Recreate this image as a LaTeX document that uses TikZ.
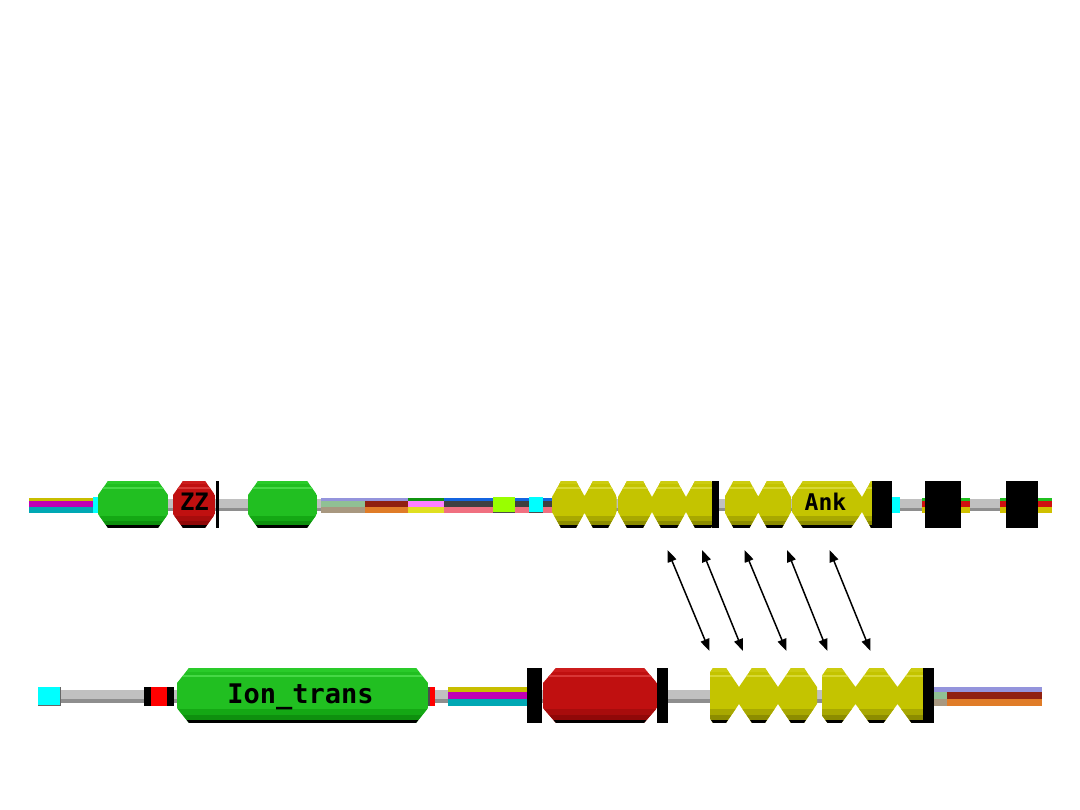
\documentclass[tikz,border=0pt]{standalone}
\usepackage{fontspec}
\newfontfamily\domfont{DejaVu Sans Mono}
\usetikzlibrary{arrows.meta}
% domain palettes
\definecolor{grnbase}{HTML}{21BF21}\definecolor{grntop}{HTML}{2ACB2A}\definecolor{grnhi}{HTML}{46D846}
\definecolor{grndk}{HTML}{14A814}\definecolor{grndkk}{HTML}{0E900E}
\definecolor{redbase}{HTML}{C01010}\definecolor{redtop}{HTML}{CC1C1C}\definecolor{redhi}{HTML}{D83636}
\definecolor{reddk}{HTML}{A80C0C}\definecolor{reddkk}{HTML}{900808}
\definecolor{yelbase}{HTML}{C4C400}\definecolor{yeltop}{HTML}{CCCC10}\definecolor{yelhi}{HTML}{D8D834}
\definecolor{yeldk}{HTML}{A8A800}\definecolor{yeldkk}{HTML}{8C8C00}
% stripes
\definecolor{sYel}{HTML}{C8BE00}\definecolor{sMag}{HTML}{C000B4}\definecolor{sCya}{HTML}{00A8B4}
\definecolor{sLav}{HTML}{9494DC}\definecolor{sSage}{HTML}{90C094}\definecolor{sTaupe}{HTML}{A89880}
\definecolor{sDrd}{HTML}{902010}\definecolor{sOrg}{HTML}{E07C28}\definecolor{sGrn}{HTML}{109410}
\definecolor{sPnk}{HTML}{FF80FF}\definecolor{sYlw}{HTML}{E0E020}\definecolor{sBlu}{HTML}{1464E0}
\definecolor{sDgr}{HTML}{404040}\definecolor{sPk}{HTML}{F07080}\definecolor{sLime}{HTML}{99FF00}
\definecolor{sCyan}{HTML}{00FFFF}\definecolor{sG}{HTML}{20C020}\definecolor{sR}{HTML}{D01010}
\definecolor{sY}{HTML}{D0C000}\definecolor{lineG}{HTML}{C0C0C0}\definecolor{lineD}{HTML}{8E8E8E}
\definecolor{boxR}{HTML}{FF0000}

\newcommand\octpath[6]{({(#1)+(#5)},{#3}) -- ({(#2)-(#5)},{#3}) -- ({#2},{(#3)+(#6)}) -- ({#2},{(#4)-(#6)}) -- ({(#2)-(#5)},{#4}) -- ({(#1)+(#5)},{#4}) -- ({#1},{(#4)-(#6)}) -- ({#1},{(#3)+(#6)}) -- cycle}
\newcommand\lobe[6]{\octpath{#1-#2}{#1+#2}{#4}{#5}{#3}{#6}}
\newcommand\bands[5]{%
 \fill[#5base] (#1,#3) rectangle (#2,#4);
 \fill[#5top] (#1,#3) rectangle (#2,{#3+0.07*(#4-#3)});
 \fill[#5hi] (#1,{#3+0.12*(#4-#3)}) rectangle (#2,{#3+0.17*(#4-#3)});
 \fill[#5dk] (#1,{#3+0.74*(#4-#3)}) rectangle (#2,{#3+0.85*(#4-#3)});
 \fill[#5dkk] (#1,{#3+0.85*(#4-#3)}) rectangle (#2,{#3+0.94*(#4-#3)});
 \fill[black] (#1,{#3+0.94*(#4-#3)}) rectangle (#2,#4);}
\newcommand\octdom[7]{\begin{scope}\clip \octpath{#1}{#2}{#3}{#4}{#5}{#6}; \bands{#1}{#2}{#3}{#4}{#7}\end{scope}}
\newcommand\tristripe[9]{%
 \fill[#7] (#1,#3) rectangle (#2,#4);
 \fill[#8] (#1,#4) rectangle (#2,#5);
 \fill[#9] (#1,#5) rectangle (#2,#6);}
\newcommand\topstr[5]{\tristripe{#1}{#2}{497.5}{501}{507}{512.5}{#3}{#4}{#5}}
\newcommand\botstr[5]{\tristripe{#1}{#2}{687}{692}{698.5}{706}{#3}{#4}{#5}}

\tikzset{
  dbl/.style={{Triangle[length=12pt,width=9pt]}-{Triangle[length=12pt,width=9pt]}, line width=1.5pt},
  lbl/.style={inner sep=0pt, anchor=base, font=\domfont\bfseries}
}

\begin{document}
\begin{tikzpicture}[x=1pt,y=-1pt]
\useasboundingbox[fill=white] (0,0) rectangle (1080,810);

% ================= TOP ROW =================
% backbone line
\fill[lineG] (94,499) rectangle (1040,508);
\fill[lineD] (94,508) rectangle (1040,511);
% stripes
\topstr{29}{94}{sYel}{sMag}{sCya}
\fill[sCyan] (93,497) rectangle (98,513);
\topstr{321}{365}{sLav}{sSage}{sTaupe}
\topstr{365}{408}{sLav}{sDrd}{sOrg}
\topstr{408}{444}{sGrn}{sPnk}{sYlw}
\topstr{444}{553}{sBlu}{sDgr}{sPk}
\fill[sLime] (493,497) rectangle (515,513);
\fill[black!70] (493,511.5) rectangle (515,513);
\fill[sCyan] (529,497) rectangle (543,513);
\fill[black!70] (529,511.5) rectangle (543,513);
% domains
\octdom{98}{168}{481}{528}{10}{14}{grn}
\octdom{173}{215}{481}{528}{10}{14}{red}
\fill[black] (216,481) rectangle (219,528);
\octdom{248}{317}{481}{528}{10}{14}{grn}
% ankyrin groups
\begin{scope}
 \clip (552,470) rectangle (616.5,540);
 \clip \lobe{568.5}{16.5}{9}{481}{528}{16} \lobe{600.5}{16.5}{9}{481}{528}{16};
 \bands{540}{630}{481}{528}{yel}
\end{scope}
\begin{scope}
 \clip (618,470) rectangle (712,540);
 \clip \lobe{635}{17}{9}{481}{528}{16} \lobe{669}{17}{9}{481}{528}{16} \lobe{703}{17}{9}{481}{528}{16};
 \bands{600}{730}{481}{528}{yel}
\end{scope}
\fill[black] (712,481) rectangle (719,528);
\begin{scope}
 \clip (725,470) rectangle (791,540);
 \clip \lobe{741.5}{17}{9}{481}{528}{16} \lobe{774.5}{16.5}{9}{481}{528}{16};
 \bands{715}{800}{481}{528}{yel}
\end{scope}
\octdom{792}{862}{481}{528}{11}{16}{yel}
\begin{scope}
 \clip (862,470) rectangle (872,540);
 \clip \lobe{879}{17}{9}{481}{528}{16};
 \bands{855}{900}{481}{528}{yel}
\end{scope}
\fill[black] (872,481) rectangle (892,528);
\fill[sCyan] (892,497) rectangle (900,513);
\topstr{922}{925}{sG}{sR}{sY}
\fill[black] (925,481) rectangle (961,528);
\topstr{961}{970}{sG}{sR}{sY}
\topstr{1000}{1006}{sG}{sR}{sY}
\fill[black] (1006,481) rectangle (1038,528);
\topstr{1038}{1052}{sG}{sR}{sY}
% labels
\node[lbl, font=\domfont\bfseries\fontsize{24}{24}\selectfont] (zz) at (194.5,511) {ZZ};
\node[lbl, font=\domfont\bfseries\fontsize{23}{23}\selectfont] (ank) at (825.5,511) {Ank};

% ================= BOTTOM ROW =================
\fill[lineG] (61,690) rectangle (934,699);
\fill[lineD] (61,699) rectangle (934,703);
\fill[sCyan] (38,687) rectangle (61,706);
\fill[black!60] (38,704.5) rectangle (61,706);
\fill[black!60] (59.5,687) rectangle (61,706);
\fill[black] (144,687) rectangle (151,706);
\fill[boxR] (151,687) rectangle (167,706);
\fill[black] (167,687) rectangle (174,706);
\octdom{177}{428}{668}{723}{12}{15}{grn}
\fill[boxR] (428,687) rectangle (435,706);
\fill[black!70] (428,687) rectangle (429.5,706);
\botstr{448}{527}{sYel}{sMag}{sCya}
\fill[black] (527,668) rectangle (542,723);
\octdom{543}{657}{668}{723}{13}{15}{red}
\fill[black] (657,668) rectangle (668,723);
\begin{scope}
 \clip (710,660) rectangle (817,730);
 \clip \lobe{719.5}{19.5}{13}{668}{723}{19} \lobe{758.5}{19.5}{13}{668}{723}{19} \lobe{797.5}{19.5}{13}{668}{723}{19};
 \bands{690}{830}{668}{723}{yel}
\end{scope}
\begin{scope}
 \clip (822,660) rectangle (923,730);
 \clip \lobe{834.5}{21}{14}{668}{723}{19} \lobe{876.5}{21}{14}{668}{723}{19} \lobe{918.5}{21}{14}{668}{723}{19};
 \bands{800}{940}{668}{723}{yel}
\end{scope}
\fill[black] (923,668) rectangle (934,723);
\fill[sLav] (934,687) rectangle (1042,692);
\fill[sSage] (934,692) rectangle (947,698.5);
\fill[sDrd] (947,692) rectangle (1042,698.5);
\fill[sTaupe] (934,698.5) rectangle (947,706);
\fill[sOrg] (947,698.5) rectangle (1042,706);
\node[lbl, font=\domfont\bfseries\fontsize{27}{27}\selectfont] (ion) at (300.5,703) {Ion\_trans};

% ================= ARROWS =================
\coordinate (t1) at (667.5,550); \coordinate (b1) at (709.5,651);
\coordinate (t2) at (702,550);   \coordinate (b2) at (743,651);
\coordinate (t3) at (744.5,550); \coordinate (b3) at (786.5,651);
\coordinate (t4) at (787,550);   \coordinate (b4) at (827.5,651);
\coordinate (t5) at (829.5,550); \coordinate (b5) at (870.5,651);
\foreach \i in {1,...,5} {\draw[dbl] (t\i) -- (b\i);}
\end{tikzpicture}
\end{document}
